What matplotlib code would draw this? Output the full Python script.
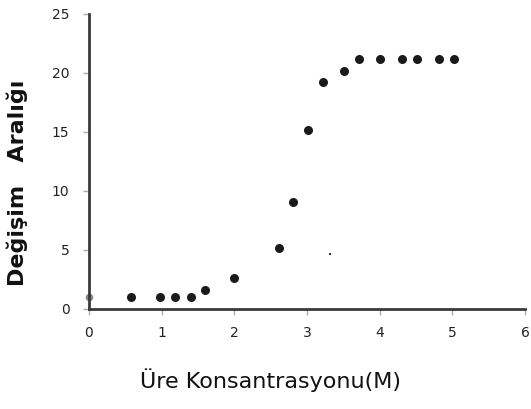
import numpy as np
import matplotlib.pyplot as plt

# urea concentration (M) vs change range
ure_m = [0.58, 0.98, 1.19, 1.40, 1.60, 2.00, 2.61, 2.81, 3.01, 3.22,
         3.51, 3.72, 4.00, 4.31, 4.52, 4.81, 5.02]
aralik = [1.0, 1.0, 1.0, 1.0, 1.6, 2.6, 5.2, 9.1, 15.2, 19.2,
          20.2, 21.2, 21.2, 21.2, 21.2, 21.2, 21.2]

# faint grey point sitting on the y axis and a stray speck from the scan
start_x, start_y = [0.0], [1.0]
speck_x, speck_y = [3.31], [4.7]

x_ticks = [0, 1, 2, 3, 4, 5, 6]
y_ticks = [0, 5, 10, 15, 20, 25]

fig = plt.figure(figsize=(5.31, 4.09), dpi=100)
ax = fig.add_axes([0.1676, 0.2445, 0.8212, 0.7213])

ax.plot(ure_m, aralik, "o", color="#1a1a1a", markersize=6.5, markeredgewidth=0)
ax.plot(start_x, start_y, "o", color="#8a8a8a", markersize=5.5,
        markeredgewidth=0, clip_on=False)
ax.plot(speck_x, speck_y, "s", color="#333333", markersize=1.5, markeredgewidth=0)

ax.set_xlim(0, 6)
ax.set_ylim(0, 25)
ax.set_xticks(x_ticks)
ax.set_yticks(y_ticks)
ax.set_xticklabels([str(t) for t in x_ticks], fontsize=10, color="#222222")
ax.set_yticklabels([str(t) for t in y_ticks], fontsize=10, color="#222222")

for side in ["top", "right"]:
    ax.spines[side].set_visible(False)
for side in ["left", "bottom"]:
    ax.spines[side].set_color("#3a3a3a")
    ax.spines[side].set_linewidth(2)

ax.tick_params(axis="y", length=4, width=1, color="#aaaaaa", pad=10)
ax.tick_params(axis="x", length=4, width=1, color="#aaaaaa", pad=8)

ax.set_xlabel("Üre Konsantrasyonu(M)", fontsize=16, color="#111111")
ax.xaxis.set_label_coords(0.417, -0.2)
ax.set_ylabel("Değişim   Aralığı", fontsize=16, fontweight="bold",
              color="#111111")
ax.yaxis.set_label_coords(-0.14, 0.427)

fig.savefig("out.png", dpi=100)
